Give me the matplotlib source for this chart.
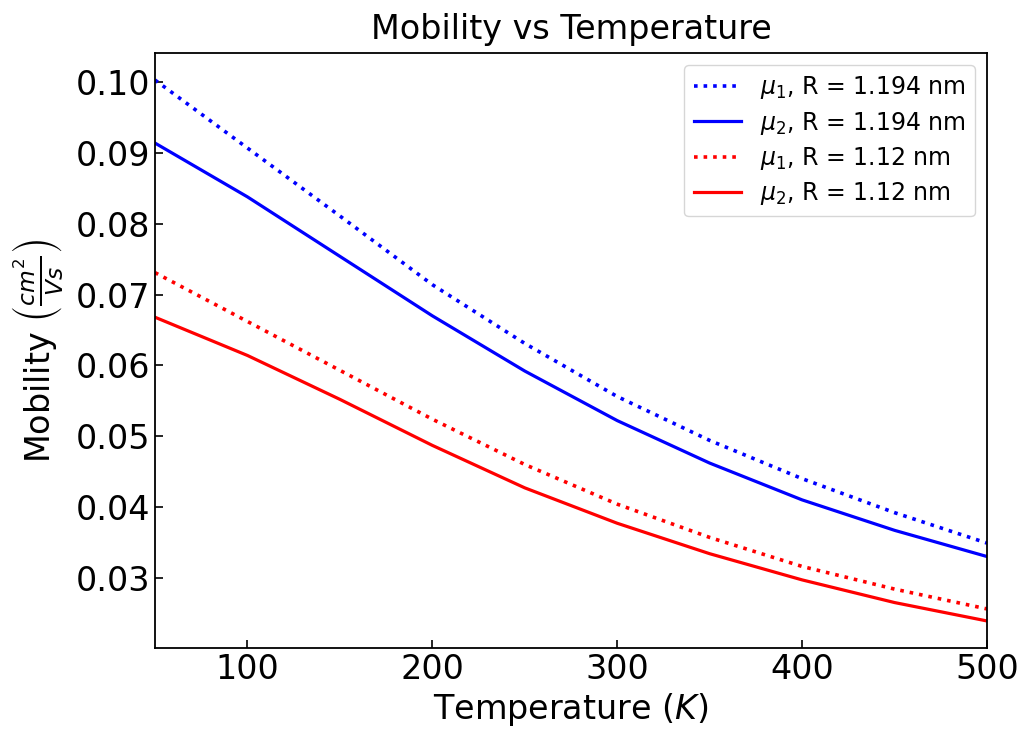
import numpy as np
import matplotlib
matplotlib.use('Agg')
import matplotlib.pyplot as plt

# temperature grid (K)
T = [50, 100, 150, 200, 250, 300, 350, 400, 450, 500]

# mobility values (cm^2/Vs)
mu1_r1194 = [0.1003, 0.0907, 0.0811, 0.0714, 0.0631, 0.0556, 0.0494, 0.0440, 0.0392, 0.0349]
mu2_r1194 = [0.0914, 0.0838, 0.0754, 0.0670, 0.0592, 0.0522, 0.0462, 0.0410, 0.0367, 0.0330]
mu1_r112 = [0.0731, 0.0662, 0.0593, 0.0524, 0.0460, 0.0404, 0.0357, 0.0316, 0.0284, 0.0256]
mu2_r112 = [0.0668, 0.0614, 0.0552, 0.0487, 0.0427, 0.0377, 0.0334, 0.0297, 0.0265, 0.0239]

fig = plt.figure(figsize=(10.21, 7.29), dpi=100)
ax = fig.add_axes([0.1518, 0.1111, 0.8149, 0.8162])

ax.plot(T, mu1_r1194, ':', color='blue', lw=2.6, label=r'$\mu_1$, R = 1.194 nm')
ax.plot(T, mu2_r1194, '-', color='blue', lw=2.3, label=r'$\mu_2$, R = 1.194 nm')
ax.plot(T, mu1_r112, ':', color='red', lw=2.6, label=r'$\mu_1$, R = 1.12 nm')
ax.plot(T, mu2_r112, '-', color='red', lw=2.3, label=r'$\mu_2$, R = 1.12 nm')

ax.set_xlim(50, 500)
ax.set_xticks([100, 200, 300, 400, 500])
ax.set_yticks([0.03, 0.04, 0.05, 0.06, 0.07, 0.08, 0.09, 0.10])
ax.set_yticklabels(['0.03', '0.04', '0.05', '0.06', '0.07', '0.08', '0.09', '0.10'])
ax.tick_params(direction='in', length=6, width=1.2, labelsize=24)
for s in ax.spines.values():
    s.set_linewidth(1.3)

ax.set_title('Mobility vs Temperature', fontsize=24, pad=10)
ax.set_xlabel(r'Temperature ($K$)', fontsize=24)
ax.set_ylabel(r'Mobility $\left(\frac{cm^2}{Vs}\right)$', fontsize=24, labelpad=8)
ax.legend(loc='upper right', fontsize=17, labelspacing=0.35)

fig.savefig('out.png', dpi=100)
